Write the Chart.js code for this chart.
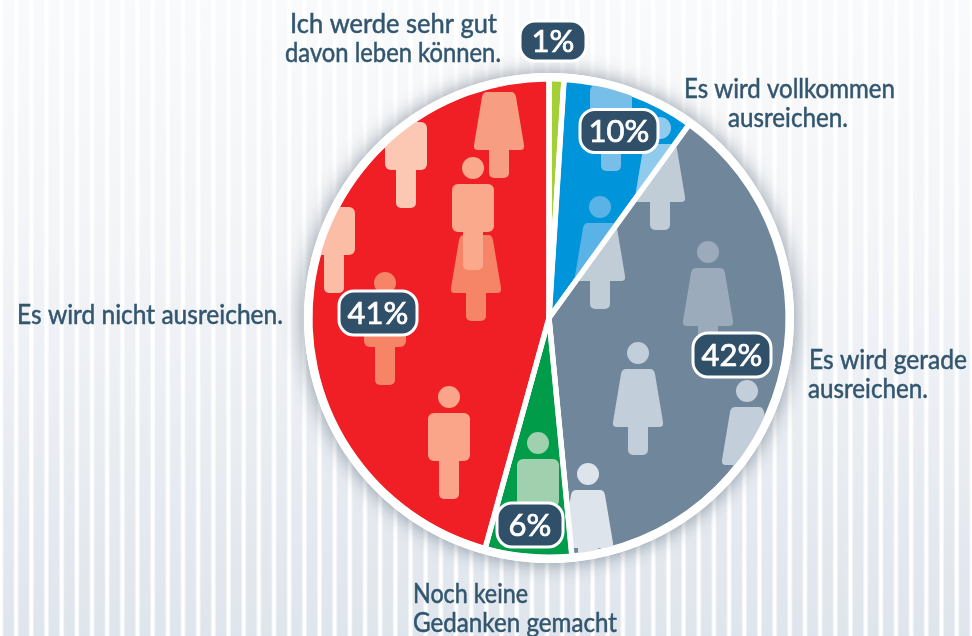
<!DOCTYPE html>
<html lang="de">
<head>
<meta charset="utf-8">
<title>Es wird ausreichen</title>
<style>
  html, body { margin: 0; padding: 0; width: 972px; height: 636px; overflow: hidden; }
  body {
    background:
      repeating-linear-gradient(90deg, #fff 0, #fff 2px, rgba(255,255,255,0) 4px, rgba(255,255,255,0) 13px, #fff 15.17px),
      linear-gradient(180deg, #f9fafb 0%, #f2f4f7 40%, #e9edf2 70%, #dfe5ec 100%);
  }
  canvas { display: block; }
</style>
<script src="https://cdn.jsdelivr.net/npm/chart.js@4"></script>
</head>
<body>
<canvas id="torte" width="972" height="636"></canvas>
<script>
// Kategorien im Uhrzeigersinn ab 12 Uhr
const kategorien = ['Ich werde sehr gut davon leben können.', 'Es wird vollkommen ausreichen.', 'Es wird gerade ausreichen.', 'Noch keine Gedanken gemacht', 'Es wird nicht ausreichen.'];
// gedruckte Prozentwerte
const prozentLabels = ['1%', '10%', '42%', '6%', '41%'];
// Sektorgrößen in Grad, so wie sie im Bild gezeichnet sind (weichen von den gedruckten Werten ab)
const sektorGrad = [3.6, 32.3, 138.6, 21, 164.5];
const farben = ['#a5cf36', '#0095da', '#70869b', '#009c4a', '#f01f26'];

const TEXT_FARBE = '#33566f';
const PILLE_FARBE = '#2f5068';

// Beschriftungen: Text, x, Grundlinie, Breite
const beschriftungen = [
  ['Ich werde sehr gut', 290, 33, 207],
  ['davon leben können.', 285, 62, 216],
  ['Es wird vollkommen', 684, 98, 211],
  ['ausreichen.', 728, 127, 120],
  ['Es wird nicht ausreichen.', 17, 324, 266],
  ['Es wird gerade', 809, 369, 158],
  ['ausreichen.', 808, 398, 120],
  ['Noch keine', 413, 603, 115],
  ['Gedanken gemacht', 413, 632, 204]
];

// Prozent-Pillen: Mitte x, Mitte y, Breite, Höhe (gleiche Reihenfolge wie prozentLabels)
const pillen = [
  [553, 41, 66, 40],
  [619, 131, 78, 43],
  [732, 355, 78, 44],
  [530, 525, 66, 44],
  [378, 313, 78, 44]
];

// Figuren je Sektor: Art, x, y (Kopfmitte), Farbe
const figuren = {
  1: [['m', 611, 69, '#77bfe8'], ['f', 660, 128, '#90cbee'], ['f', 600, 207, '#5ab3e6']],
  2: [['f', 708, 252, '#9babbc'], ['f', 638, 353, '#c2ced9'], ['f', 747, 391, '#c2ced9'], ['f', 588, 474, '#dde4ec'],
      ['f', 660, 128, '#c0ccd6'], ['f', 600, 207, '#c0ccd6']],
  3: [['m', 538, 443, '#a0d0ae']],
  4: [['f', 499, 76, '#f79e82'], ['m', 406, 106, '#fcc8b4'], ['m', 334, 191, '#fbbda6'],
      ['f', 476, 219, '#f68467'], ['m', 473, 168, '#fba98c'], ['m', 385, 283, '#f68467'], ['m', 449, 397, '#faa589']]
};

function zeichneFigur(ctx, art, x, y, farbe) {
  ctx.fillStyle = farbe;
  ctx.beginPath();
  ctx.arc(x, y, 11, 0, Math.PI * 2);
  ctx.fill();
  ctx.beginPath();
  ctx.roundRect(x - 10, y + 40, 20, 62, 5);
  ctx.fill();
  ctx.beginPath();
  if (art === 'm') {
    ctx.roundRect(x - 21, y + 16, 42, 48, 6);
  } else {
    ctx.moveTo(x - 12, y + 16);
    ctx.lineTo(x + 12, y + 16);
    ctx.quadraticCurveTo(x + 16, y + 16, x + 17, y + 21);
    ctx.lineTo(x + 25, y + 69);
    ctx.quadraticCurveTo(x + 26, y + 74, x + 21, y + 74);
    ctx.lineTo(x - 21, y + 74);
    ctx.quadraticCurveTo(x - 26, y + 74, x - 25, y + 69);
    ctx.lineTo(x - 17, y + 21);
    ctx.quadraticCurveTo(x - 16, y + 16, x - 12, y + 16);
    ctx.closePath();
  }
  ctx.fill();
}

function schmalerText(ctx, text, x, y, breite) {
  const w = ctx.measureText(text).width;
  ctx.save();
  ctx.translate(x, y);
  ctx.scale(breite / w, 1);
  ctx.fillText(text, 0, 0);
  ctx.strokeText(text, 0, 0);
  ctx.restore();
}

const tortenDeko = {
  id: 'tortenDeko',
  // weißer Ring mit Schatten unter der Torte
  beforeDatasetsDraw(chart) {
    const ctx = chart.ctx;
    const a = chart.getDatasetMeta(0).data[0];
    ctx.save();
    ctx.shadowColor = 'rgba(50,70,90,0.55)';
    ctx.shadowBlur = 20;
    ctx.fillStyle = '#fff';
    ctx.beginPath();
    ctx.arc(a.x, a.y, a.outerRadius + 6, 0, Math.PI * 2);
    ctx.fill();
    ctx.restore();
  },
  afterDatasetsDraw(chart) {
    const ctx = chart.ctx;
    const arcs = chart.getDatasetMeta(0).data;
    const mx = arcs[0].x, my = arcs[0].y, r = arcs[0].outerRadius;

    // Figuren, auf den jeweiligen Sektor beschnitten
    arcs.forEach((a, i) => {
      if (!figuren[i]) return;
      ctx.save();
      ctx.beginPath();
      ctx.moveTo(mx, my);
      ctx.arc(mx, my, r, a.startAngle, a.endAngle);
      ctx.closePath();
      ctx.clip();
      figuren[i].forEach(f => zeichneFigur(ctx, f[0], f[1], f[2], f[3]));
      ctx.restore();
    });

    // Trennlinien und Ring über die Figuren
    ctx.save();
    ctx.strokeStyle = '#fff';
    ctx.lineWidth = 5.5;
    ctx.lineCap = 'butt';
    arcs.forEach(a => {
      ctx.beginPath();
      ctx.moveTo(mx, my);
      ctx.lineTo(mx + Math.cos(a.startAngle) * (r + 2), my + Math.sin(a.startAngle) * (r + 2));
      ctx.stroke();
    });
    ctx.lineWidth = 8;
    ctx.beginPath();
    ctx.arc(mx, my, r + 2, 0, Math.PI * 2);
    ctx.stroke();
    ctx.restore();

    // Texte
    ctx.save();
    ctx.fillStyle = TEXT_FARBE;
    ctx.strokeStyle = TEXT_FARBE;
    ctx.lineWidth = 0.5;
    ctx.font = '26px Lato';
    ctx.textAlign = 'left';
    ctx.textBaseline = 'alphabetic';
    beschriftungen.forEach(b => schmalerText(ctx, b[0], b[1], b[2], b[3]));

    // Prozent-Pillen
    pillen.forEach((p, i) => {
      ctx.fillStyle = PILLE_FARBE;
      ctx.strokeStyle = '#fff';
      ctx.lineWidth = 3;
      ctx.beginPath();
      ctx.roundRect(p[0] - p[2] / 2, p[1] - p[3] / 2, p[2], p[3], 15);
      ctx.fill();
      ctx.stroke();
      ctx.fillStyle = '#fff';
      ctx.strokeStyle = '#fff';
      ctx.lineWidth = 0.7;
      ctx.font = '31px Lato';
      ctx.textAlign = 'center';
      ctx.textBaseline = 'middle';
      ctx.fillText(prozentLabels[i], p[0], p[1] + 1);
      ctx.strokeText(prozentLabels[i], p[0], p[1] + 1);
    });
    ctx.restore();
  }
};

new Chart(document.getElementById('torte'), {
  type: 'pie',
  data: {
    labels: kategorien,
    datasets: [{
      data: sektorGrad,
      backgroundColor: farben,
      borderColor: '#fff',
      borderWidth: 5
    }]
  },
  options: {
    responsive: false,
    animation: false,
    rotation: 0,
    layout: { padding: { left: 126, top: 76.5, bottom: 76.5 } },
    plugins: {
      legend: { display: false },
      tooltip: { enabled: false }
    }
  },
  plugins: [tortenDeko]
});
</script>
</body>
</html>
